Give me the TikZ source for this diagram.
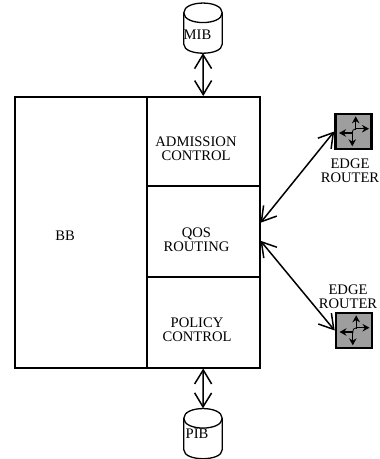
\documentclass[tikz,border=0pt]{standalone}
\usepackage{fontspec}
\setmainfont{Liberation Serif}
\usetikzlibrary{arrows.meta,calc}
\tikzset{
  x=1pt,y=-1pt,
  cellbox/.style={draw,line width=1.5pt,minimum width=113pt,inner sep=0pt,anchor=north west},
  lab/.style={font=\fontsize{14.6}{14.4}\selectfont,align=center,inner sep=0pt,text=black},
  conn/.style={line width=1.5pt,{Straight Barb[length=14pt,width=17pt,line width=1.5pt]}-{Straight Barb[length=14pt,width=17pt,line width=1.5pt]}},
  routerbox/.style={draw=black,fill=black!38,line width=2.6pt,minimum width=36pt,minimum height=35pt,inner sep=0pt},
  cylbox/.style={minimum width=38pt,minimum height=50pt,inner sep=0pt},
  ga/.style={line width=1.2pt,-{Stealth[length=7pt,width=7.5pt]}},
}
\newcommand{\cyl}[1]{%
  \draw[line width=1.3pt,fill=white] ($(#1.north west)+(0,10)$) .. controls +(0,-13) and ($(#1.north east)+(0,-3)$) .. ($(#1.north east)+(0,10)$)
     -- ($(#1.south east)+(0,-9)$) .. controls +(0,12) and ($(#1.south west)+(0,3)$) .. ($(#1.south west)+(0,-9)$) -- cycle;
  \draw[line width=1.3pt] ($(#1.north west)+(0,10)$) .. controls +(0,13) and ($(#1.north east)+(0,23)$) .. ($(#1.north east)+(0,10)$);
}
\newcommand{\router}[1]{%
  \draw[ga] ($(#1.center)+(-1.500,1.500)$) -- ($(#1.center)+(-14.500,1.500)$);
  \draw[ga] ($(#1.center)+(-1.200,1.500)$) -- ($(#1.center)+(-1.200,14.800)$);
  \draw[ga] ($(#1.center)+(2,-2.800)$) -- ($(#1.center)+(15.500,-2.800)$);
  \draw[ga] ($(#1.center)+(2.200,-1.500)$) -- ($(#1.center)+(2.200,-15.200)$);
  \draw[line width=0.8pt] ($(#1.center)+(-1.200,3)$) .. controls +(0,-4) and ($(#1.center)+(-0.500,-2.800)$) .. ($(#1.center)+(2.500,-2.800)$);
}
\begin{document}
\begin{tikzpicture}
\useasboundingbox (0,0) rectangle (380,459);
\node[cellbox,minimum width=132pt,minimum height=271pt] (bb) at (14,96) {};
\node[cellbox,minimum height=89pt] (adm) at (146,96) {};
\node[cellbox,minimum height=91pt] (qos) at (146,185) {};
\node[cellbox,minimum height=91pt] (pol) at (146,276) {};
\node[lab] (bbl) at (65,236) {BB};
\node[lab] (adml) at (196,148.500) {ADMISSION\\CONTROL};
\node[lab] (qosl) at (196.500,240) {QOS\\ROUTING};
\node[lab] (poll) at (197,330) {POLICY\\CONTROL};
\node[cylbox] (mib) at (203,28) {};
\node[cylbox] (pib) at (203,433.500) {};
\cyl{mib}\cyl{pib}
\node[lab] (mibl) at (197.500,35) {MIB};
\node[lab] (pibl) at (197,434) {PIB};
\node[routerbox] (r1) at (353.500,131.500) {};
\node[routerbox] (r2) at (354,330.500) {};
\router{r1}\router{r2}
\node[lab] (r1l) at (350,171) {EDGE\\ROUTER};
\node[lab] (r2l) at (348,297) {EDGE\\ROUTER};
\draw[conn] (mib.south) -- (adm.north);
\draw[conn] (pol.south) -- (pib.north);
\coordinate (q1) at ($(qos.east)+(0,-8.500)$);
\coordinate (q2) at ($(qos.east)+(0,9.500)$);
\draw[conn] (r1.west) -- (q1);
\draw[conn] (r2.west) -- (q2);
\end{tikzpicture}
\end{document}
